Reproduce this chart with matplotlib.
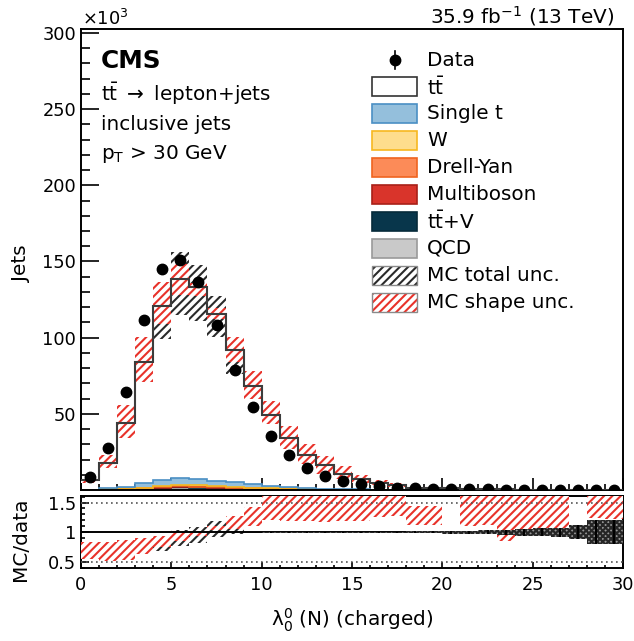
import numpy as np
import matplotlib
matplotlib.use("Agg")
import matplotlib.pyplot as plt
from matplotlib.patches import Rectangle
from matplotlib.lines import Line2D
from matplotlib.ticker import MultipleLocator, FixedLocator

plt.rcParams['font.family'] = ['DejaVu Sans']
plt.rcParams['mathtext.fontset'] = 'dejavusans'
plt.rcParams['hatch.linewidth'] = 1.5

# ---------------- data (in units of 10^3 jets) ----------------
bin_edges = list(range(0, 31))

data = [8.8, 27.4, 64.0, 111.7, 145.2, 151.0, 136.4, 108.0, 79.0, 54.6,
        35.7, 22.8, 14.3, 9.2, 5.9, 3.7, 2.4, 1.5, 1.2, 0.85,
        0.55, 0.45, 0.35, 0.27, 0.20, 0.15, 0.11, 0.08, 0.06, 0.045]
data_rel_err = [0.003, 0.003, 0.003, 0.003, 0.003, 0.003, 0.003, 0.003, 0.003, 0.003,
                0.004, 0.004, 0.005, 0.006, 0.007, 0.008, 0.010, 0.012, 0.015, 0.020,
                0.025, 0.030, 0.035, 0.045, 0.060, 0.070, 0.075, 0.120, 0.200, 0.200]

ttbar = [6.1, 16.5, 41.7, 79.8, 114.0, 130.6, 126.3, 109.5, 86.6, 64.0,
         46.2, 32.2, 21.7, 15.4, 10.2, 6.7, 4.6, 3.17, 1.5, 1.06,
         1.07, 0.58, 0.455, 0.32, 0.262, 0.194, 0.145, 0.156, 0.084, 0.063]
single_t = [0.2, 0.7, 1.4, 2.8, 4.2, 4.6, 4.3, 3.8, 3.4, 2.5,
            1.9, 1.2, 0.85, 0.55, 0.35, 0.22, 0.14, 0.09, 0.06, 0.04,
            0.03, 0.02, 0.015, 0.01, 0.008, 0.006, 0.005, 0.004, 0.003, 0.002]
w_jets = [0.03, 0.1, 0.2, 0.4, 0.6, 0.8, 0.7, 0.6, 0.5, 0.35,
          0.25, 0.15, 0.1, 0.07, 0.04, 0.03, 0.02, 0.012, 0.008, 0.005,
          0.004, 0.003, 0.002, 0.002, 0.001, 0.001, 0.001, 0.001, 0.0005, 0.0005]
drell_yan = [0.02, 0.08, 0.15, 0.3, 0.45, 0.6, 0.55, 0.45, 0.4, 0.3,
             0.2, 0.12, 0.08, 0.05, 0.03, 0.02, 0.012, 0.008, 0.005, 0.003,
             0.002, 0.002, 0.001, 0.001, 0.001, 0.0005, 0.0005, 0.0005, 0.0003, 0.0003]
multiboson = [0.01, 0.02, 0.04, 0.07, 0.1, 0.12, 0.11, 0.1, 0.08, 0.06,
              0.04, 0.03, 0.02, 0.01, 0.01, 0.005, 0.003, 0.002, 0.001, 0.001,
              0.001, 0.0005, 0.0005, 0.0005, 0.0005, 0.0003, 0.0003, 0.0003, 0.0002, 0.0002]
ttv = [0.01, 0.02, 0.04, 0.06, 0.09, 0.1, 0.1, 0.09, 0.08, 0.06,
       0.05, 0.03, 0.02, 0.015, 0.01, 0.006, 0.004, 0.003, 0.002, 0.001,
       0.001, 0.0005, 0.0005, 0.0005, 0.0003, 0.0003, 0.0003, 0.0002, 0.0002, 0.0002]
qcd = [0.04, 0.2, 0.4, 0.8, 1.2, 1.6, 1.5, 1.1, 1.0, 0.7,
       0.45, 0.3, 0.2, 0.13, 0.08, 0.05, 0.03, 0.02, 0.01, 0.008,
       0.005, 0.004, 0.003, 0.002, 0.002, 0.001, 0.001, 0.001, 0.001, 0.001]

shape_lo = [4.8, 14.2, 34.4, 71.0, 109.0, 128.0, 127.5, 112.0, 83.8, 60.0,
            43.0, 27.0, 17.0, 10.8, 7.0, 4.4, 3.0, 1.9, 1.35, 0.95,
            0.93, 0.5, 0.39, 0.23, 0.21, 0.157, 0.115, 0.136, 0.074, 0.055]
shape_hi = [7.4, 23.0, 55.9, 100.7, 136.4, 148.5, 136.0, 119.5, 100.2, 78.0,
            58.6, 42.1, 30.0, 22.4, 15.8, 9.6, 6.6, 4.6, 1.74, 1.23,
            1.27, 0.75, 0.585, 0.45, 0.335, 0.25, 0.185, 0.184, 0.101, 0.075]
total_lo = [5.2, 15.0, 37.0, 74.0, 99.0, 115.0, 111.0, 100.2, 76.1, 60.0,
            45.0, 31.0, 21.0, 14.8, 9.8, 6.4, 4.4, 3.0, 1.42, 1.0,
            1.0, 0.55, 0.43, 0.30, 0.25, 0.18, 0.138, 0.147, 0.080, 0.060]
total_hi = [7.2, 21.0, 52.0, 96.0, 128.0, 156.0, 147.4, 127.6, 100.0, 76.0,
            53.0, 37.0, 25.0, 17.6, 11.6, 7.6, 5.2, 3.6, 1.68, 1.2,
            1.2, 0.65, 0.51, 0.36, 0.29, 0.22, 0.162, 0.173, 0.094, 0.070]

# ---------------- styling ----------------
C_SINGLE_T = ('#94bfdc', '#4a8fc4')
C_W = ('#fedd8d', '#f7b820')
C_DY = ('#fc8b58', '#ef6420')
C_MULTI = ('#d9342b', '#a82018')
C_TTV = ('#08364b', '#062a3a')
C_QCD = ('#c9c9c9', '#9a9a9a')
RED = '#e8322a'
BLK = '#2a2a2a'

W, H = 634, 641
fig = plt.figure(figsize=(W / 100, H / 100), dpi=100)


def rect(l, t, r, b):
    return [l / W, 1 - b / H, (r - l) / W, (b - t) / H]


ax = fig.add_axes(rect(81, 29, 623, 490))
rax = fig.add_axes(rect(81, 496, 623, 568))

edges = np.array(bin_edges, dtype=float)
centers = 0.5 * (edges[:-1] + edges[1:])
d = np.array(data)
derr = d * np.array(data_rel_err)

comps = [(qcd, C_QCD), (ttv, C_TTV), (multiboson, C_MULTI), (drell_yan, C_DY),
         (w_jets, C_W), (single_t, C_SINGLE_T)]
bottom = np.zeros(len(data))
for vals, (fc, ec) in comps:
    top = bottom + np.array(vals)
    ax.stairs(top, edges, baseline=bottom.copy(), fill=True, facecolor=fc,
              edgecolor='none', linewidth=0, zorder=2)
    ax.stairs(top, edges, baseline=None, color=ec, linewidth=1.2, zorder=2.1)
    bottom = top
mc_total = bottom + np.array(ttbar)

# uncertainty bands
ax.stairs(np.array(total_hi), edges, baseline=np.array(total_lo), fill=True,
          facecolor='none', edgecolor=BLK, linewidth=0, hatch='////', zorder=3)
ax.stairs(np.array(shape_hi), edges, baseline=np.array(shape_lo), fill=True,
          facecolor='white', edgecolor=RED, linewidth=0, hatch='////', zorder=3.5)

ax.stairs(mc_total, edges, baseline=None, color='#3c3c3c', linewidth=1.5, zorder=4)
ax.errorbar(centers, d, yerr=derr, fmt='o', color='black', ms=7.5,
            elinewidth=1.2, capsize=0, zorder=5)

ax.set_xlim(0, 30)
ax.set_ylim(0, 302.6)
ax.yaxis.set_major_locator(FixedLocator([50, 100, 150, 200, 250, 300]))
ax.yaxis.set_minor_locator(MultipleLocator(10))
ax.xaxis.set_major_locator(MultipleLocator(5))
ax.xaxis.set_minor_locator(MultipleLocator(1))
ax.tick_params(axis='x', which='major', direction='in', length=8.5, width=1.2,
               labelbottom=False)
ax.tick_params(axis='x', which='minor', direction='in', length=4.3, width=1.2)
ax.tick_params(axis='y', which='major', direction='in', length=13, width=1.2,
               labelsize=12.8, pad=3.5)
ax.tick_params(axis='y', which='minor', direction='in', length=6.5, width=1.2)
for sp in ax.spines.values():
    sp.set_linewidth(1.4)

# ---------------- ratio panel ----------------
ratio_total_lo = np.array(total_lo) / d
ratio_total_hi = np.array(total_hi) / d
ratio_shape_lo = np.array(shape_lo) / d
ratio_shape_hi = np.array(shape_hi) / d
rel = np.array(data_rel_err)

rax.stairs(ratio_total_hi, edges, baseline=ratio_total_lo, fill=True,
           facecolor='none', edgecolor=BLK, linewidth=0, hatch='////', zorder=3)
rax.stairs(ratio_shape_hi, edges, baseline=ratio_shape_lo, fill=True,
           facecolor='white', edgecolor=RED, linewidth=0, hatch='////', zorder=3.5)
for yv in (0.5, 1.5):
    rax.axhline(yv, color='#555555', linestyle=(0, (1, 2)), linewidth=1.2, zorder=4)
rax.axhline(1.0, color='black', linewidth=1.4, zorder=4)
rax.stairs(1 + rel, edges, baseline=1 - rel, fill=True, facecolor='#8a8a8a',
           edgecolor='#1a1a1a', linewidth=0, hatch='xxxxxx', alpha=0.9, zorder=4.5)
rax.errorbar(centers, np.ones_like(centers), yerr=rel, fmt='none', ecolor='black',
             elinewidth=1.6, capsize=0, zorder=5)

rax.set_xlim(0, 30)
rax.set_ylim(0.4, 1.61)
rax.yaxis.set_major_locator(FixedLocator([0.5, 1.0, 1.5]))
rax.set_yticklabels(['0.5', '1', '1.5'])
rax.yaxis.set_minor_locator(MultipleLocator(0.1))
rax.xaxis.set_major_locator(MultipleLocator(5))
rax.xaxis.set_minor_locator(MultipleLocator(1))
rax.tick_params(axis='x', which='major', direction='in', length=4, width=1.2,
                labelsize=12.8, pad=6)
rax.tick_params(axis='x', which='minor', direction='in', length=2.2, width=1.2)
rax.tick_params(axis='y', which='major', direction='in', length=5.5, width=1.2,
                labelsize=12.8, pad=3.5)
rax.tick_params(axis='y', which='minor', direction='in', length=2.8, width=1.2)
for sp in rax.spines.values():
    sp.set_linewidth(1.4)

# ---------------- texts ----------------
def ftext(x, y, s, **kw):
    return fig.text(x / W, 1 - y / H, s, **kw)

ftext(82, 25, r'$\times$10$^{3}$', fontsize=12.8, va='baseline', ha='left')
ftext(614, 23, r'35.9 fb$^{-1}$ (13 TeV)', fontsize=14.4, va='baseline', ha='right')
ftext(101, 68, 'CMS', fontsize=17.8, fontweight='bold', va='baseline', ha='left')
ftext(101, 100, r'$\mathrm{t\bar{t}}$ $\rightarrow$ lepton+jets', fontsize=14.4,
      va='baseline', ha='left')
ftext(101, 130, 'inclusive jets', fontsize=14.4, va='baseline', ha='left')
ftext(101, 159, r'p$_{\mathrm{T}}$ > 30 GeV', fontsize=14.4, va='baseline', ha='left')

ftext(21, 264, 'Jets', fontsize=14.4, rotation=90, ha='center', va='center')
ftext(21, 539, 'MC/data', fontsize=14.4, rotation=90, ha='center', va='center')
ftext(352, 620, 'λ' + r'$^{0}_{0}$ (N) (charged)', fontsize=14.4, ha='center',
      va='center')

# ---------------- legend (drawn by hand) ----------------
leg_labels = ['Data', r'$\mathrm{t\bar{t}}$', 'Single t', 'W', 'Drell-Yan',
              'Multiboson', r'$\mathrm{t\bar{t}}$+V', 'QCD', 'MC total unc.',
              'MC shape unc.']
row0, dy_row = 60.0, 26.9
bx0, bx1, bh = 371.7, 417.3, 19.0
text_x = 427


def add_box(yc, fc, ec, lw=1.2, hatch=None, hatch_col=None):
    if hatch is not None:
        hp = Rectangle((bx0 / W, 1 - (yc + bh / 2) / H), (bx1 - bx0) / W, bh / H,
                       transform=fig.transFigure, facecolor='white',
                       edgecolor=hatch_col, linewidth=0, hatch=hatch)
        fig.add_artist(hp)
    r = Rectangle((bx0 / W, 1 - (yc + bh / 2) / H), (bx1 - bx0) / W, bh / H,
                  transform=fig.transFigure, facecolor=fc if hatch is None else 'none',
                  edgecolor=ec, linewidth=lw)
    fig.add_artist(r)


box_styles = [None, ('white', '#333333'), C_SINGLE_T, C_W, C_DY, C_MULTI, C_TTV, C_QCD]
for i, lab in enumerate(leg_labels):
    yc = row0 + i * dy_row
    if i == 0:
        xm = (bx0 + bx1) / 2
        fig.add_artist(Line2D([xm / W], [1 - yc / H], marker='o', ms=7.5,
                              color='black', transform=fig.transFigure))
        fig.add_artist(Line2D([xm / W, xm / W], [1 - (yc - 9) / H, 1 - (yc + 9) / H],
                              color='black', lw=1.2, transform=fig.transFigure))
    elif i < 8:
        fc, ec = box_styles[i]
        add_box(yc, fc, ec)
    elif i == 8:
        add_box(yc, 'none', '#8a8a8a', lw=1.0, hatch='////', hatch_col=BLK)
    else:
        add_box(yc, 'none', '#8a8a8a', lw=1.0, hatch='////', hatch_col=RED)
    ftext(text_x, yc, lab, fontsize=14.4, va='center', ha='left')

fig.savefig('out.png', dpi=100)
